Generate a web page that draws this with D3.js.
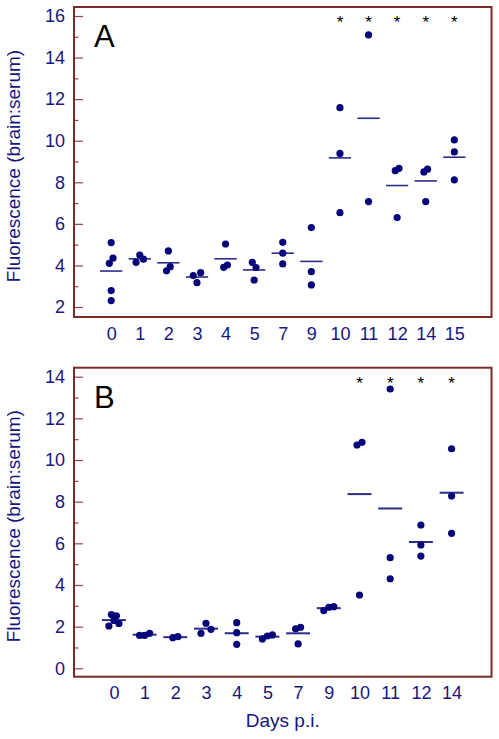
<!DOCTYPE html>
<html>
<head>
<meta charset="utf-8">
<script src="https://cdn.jsdelivr.net/npm/d3@7"></script>
<style>
  html, body { margin: 0; padding: 0; background: #fff; }
  svg { display: block; font-family: "Liberation Sans", Arial, sans-serif; }
</style>
</head>
<body>
<svg id="chart" width="499" height="739"></svg>
<script>
// ---------------- DATA ----------------
const daysA = ["0", "1", "2", "3", "4", "5", "7", "9", "10", "11", "12", "14", "15"];
const valuesA = [
  [5.10, 4.10, 4.35, 2.79, 2.31],
  [4.15, 4.50, 4.30],
  [4.70, 3.74, 3.94],
  [3.51, 3.17, 3.65],
  [5.03, 3.91, 4.02],
  [4.15, 3.90, 3.30],
  [5.11, 4.59, 4.07],
  [5.82, 3.70, 3.06],
  [11.59, 9.39, 6.54],
  [15.09, 7.07],
  [8.56, 8.67, 6.30],
  [8.50, 8.63, 7.07],
  [10.04, 9.46, 8.12]
];
const signifA = ["10", "11", "12", "14", "15"];
const yTicksA = [2, 4, 6, 8, 10, 12, 14, 16];

const daysB = ["0", "1", "2", "3", "4", "5", "7", "9", "10", "11", "12", "14"];
const valuesB = [
  [2.03, 2.58, 2.30, 2.52, 2.15],
  [1.58, 1.58, 1.68],
  [1.47, 1.52],
  [1.68, 2.16, 1.87],
  [2.19, 1.71, 1.15],
  [1.41, 1.55, 1.60],
  [1.90, 1.97, 1.17],
  [2.77, 2.93, 2.96],
  [10.72, 10.85, 3.52],
  [13.41, 5.31, 4.30],
  [6.88, 5.92, 5.39],
  [10.54, 8.27, 6.48]
];
const signifB = ["10", "11", "12", "14"];
const yTicksB = [0, 2, 4, 6, 8, 10, 12, 14];

const yLabel = "Fluorescence (brain:serum)";
const xLabel = "Days p.i.";

// ---------------- STYLE / LAYOUT ----------------
const navy = "#16167c";
const dotColor = "#06067a";
const meanColor = "#2c2c88";
const frameColor = "#7a2b2b";
const tickColor = "#8e4a4a";

const svg = d3.select("#chart");

function drawPanel(cfg) {
  const g = svg.append("g");
  const x = d3.scalePoint().domain(cfg.days).range([cfg.left, cfg.right]).padding(1.3);
  const y = d3.scaleLinear().domain(cfg.yDomain).range(cfg.yRange);

  // minor ticks (odd values)
  const minor = d3.range(cfg.yDomain[0] + 1, cfg.yDomain[1], 2);
  g.append("g")
    .attr("transform", `translate(${cfg.left},0)`)
    .call(d3.axisLeft(y).tickValues(minor).tickSize(-4.5).tickFormat(""))
    .call(s => s.select(".domain").remove())
    .call(s => s.selectAll("line").attr("stroke", tickColor).attr("stroke-width", 1.2));

  // major ticks
  g.append("g")
    .attr("transform", `translate(${cfg.left},0)`)
    .call(d3.axisLeft(y).tickValues(cfg.yTicks).tickSize(-9).tickPadding(9).tickFormat(d3.format("d")))
    .call(s => s.select(".domain").remove())
    .call(s => s.selectAll("line").attr("stroke", tickColor).attr("stroke-width", 1.2))
    .call(s => s.selectAll("text").attr("fill", navy).attr("font-size", 18)
      .attr("font-family", "Liberation Sans, Arial, sans-serif"));

  // x axis labels
  g.append("g")
    .attr("transform", `translate(0,${cfg.bottom})`)
    .call(d3.axisBottom(x).tickSize(0).tickPadding(10))
    .call(s => s.select(".domain").remove())
    .call(s => s.selectAll("text").attr("fill", navy).attr("font-size", 18)
      .attr("font-family", "Liberation Sans, Arial, sans-serif"));

  // frame
  g.append("rect")
    .attr("x", cfg.left).attr("y", cfg.top)
    .attr("width", cfg.right - cfg.left).attr("height", cfg.bottom - cfg.top)
    .attr("fill", "none").attr("stroke", frameColor).attr("stroke-width", 2);

  // panel letter
  g.append("text")
    .attr("x", cfg.left + 20).attr("y", cfg.top + 40)
    .attr("font-size", 31).attr("fill", "#000").text(cfg.letter);

  // y label
  g.append("text")
    .attr("transform", `translate(20,${(cfg.top + cfg.bottom) / 2 + 4}) rotate(-90)`)
    .attr("text-anchor", "middle").attr("font-size", 19).attr("fill", navy)
    .text(yLabel);

  // points with simple dodge for overlapping values
  const step = x.step();
  const spread = cfg.spread;
  const pts = [];
  cfg.days.forEach((d, gi) => {
    const vals = cfg.values[gi];
    const idx = vals.map((v, i) => i).sort((a, b) => vals[a] - vals[b]);
    const clusters = [];
    let cur = [idx[0]];
    for (let k = 1; k < idx.length; k++) {
      const gap = Math.abs(y(vals[idx[k]]) - y(vals[idx[k - 1]]));
      if (gap < 7.5) cur.push(idx[k]); else { clusters.push(cur); cur = [idx[k]]; }
    }
    clusters.push(cur);
    clusters.forEach(c => {
      c.sort((a, b) => a - b);
      const n = c.length;
      const sp = n > 3 ? spread * 2 / (n - 1) : spread;
      c.forEach((i, j) => {
        pts.push({ day: d, v: vals[i], dx: n > 1 ? (j - (n - 1) / 2) * sp : 0 });
      });
    });

    // mean line
    const m = d3.mean(vals);
    g.append("line")
      .attr("x1", x(d) - step * 0.39).attr("x2", x(d) + step * 0.39)
      .attr("y1", y(m)).attr("y2", y(m))
      .attr("stroke", meanColor).attr("stroke-width", cfg.meanWidth);
  });

  g.selectAll("circle.pt").data(pts).join("circle")
    .attr("class", "pt")
    .attr("cx", p => x(p.day) + p.dx)
    .attr("cy", p => y(p.v))
    .attr("r", 3.6)
    .attr("fill", dotColor);

  // significance asterisks
  g.selectAll("text.sig").data(cfg.signif).join("text")
    .attr("class", "sig")
    .attr("x", d => x(d)).attr("y", cfg.top + 21)
    .attr("text-anchor", "middle").attr("font-size", 17).attr("fill", "#000")
    .text("*");

  return { x, y };
}

drawPanel({
  days: daysA, values: valuesA, signif: signifA, yTicks: yTicksA,
  yDomain: [2, 16], yRange: [307, 16],
  left: 74, right: 491.5, top: 7, bottom: 317,
  letter: "A", spread: 3.7, meanWidth: 1.6
});

drawPanel({
  days: daysB, values: valuesB, signif: signifB, yTicks: yTicksB,
  yDomain: [0, 14], yRange: [668.3, 376.7],
  left: 74, right: 491.5, top: 367.7, bottom: 676.7,
  letter: "B", spread: 5, meanWidth: 2
});

// x axis title
svg.append("text")
  .attr("x", (74 + 491.5) / 2).attr("y", 727)
  .attr("text-anchor", "middle").attr("font-size", 19).attr("fill", navy)
  .text(xLabel);
</script>
</body>
</html>
